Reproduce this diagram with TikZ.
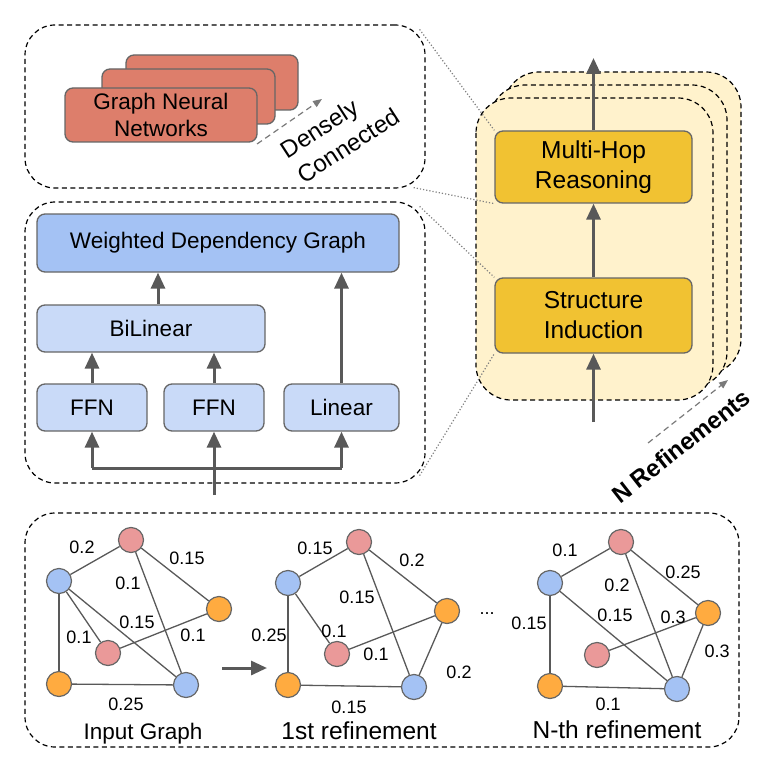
\documentclass[tikz,border=0pt]{standalone}
\usepackage{fontspec}
\setmainfont{Liberation Sans}
\definecolor{gnnred}{HTML}{DD7E6B}
\definecolor{wdgblue}{HTML}{A4C2F4}
\definecolor{layblue}{HTML}{C9DAF8}
\definecolor{stackyel}{HTML}{FFF2CC}
\definecolor{modyel}{HTML}{F1C232}
\definecolor{nblue}{HTML}{A4C2F4}
\definecolor{npink}{HTML}{EA9999}
\definecolor{norange}{HTML}{FFAB40}
\definecolor{arrgray}{HTML}{595959}
\definecolor{boxgray}{HTML}{666666}
\usepackage{tikz}
\usetikzlibrary{arrows.meta}
\newcommand{\boxfont}{\fontsize{22.5}{27}\selectfont}
\newcommand{\modfont}{\fontsize{24.5}{30}\selectfont}
\newcommand{\wfont}{\fontsize{18}{20}\selectfont}

\begin{document}
\begin{tikzpicture}[x=1pt,y=-1pt,
        box/.style={rectangle,rounded corners=8pt,draw=boxgray,line width=1.3pt,
                    inner sep=0pt,align=center,font=\boxfont},
        frame/.style={rectangle,rounded corners=30pt,draw=black,line width=1.2pt,
                      dash pattern=on 5pt off 3.5pt},
        stack/.style={rounded corners=35pt,draw=black,fill=stackyel,line width=1.2pt,
                      dash pattern=on 5pt off 3.5pt},
        arr/.style={draw=arrgray,line width=3pt,-{Triangle[length=16pt,width=14pt]}},
        dasharr/.style={draw=arrgray!80,line width=1.2pt,dash pattern=on 6pt off 4pt,
                        -{Triangle[length=9pt,width=7pt]}},
        link/.style={draw=gray,line width=1.2pt,dotted},
        gnode/.style={circle,draw=boxgray,line width=1.2pt,minimum size=25pt,inner sep=0pt},
        gedge/.style={draw=arrgray,line width=1.3pt},
        wlab/.style={font=\wfont,inner sep=0pt}]
    \useasboundingbox (0,0) rectangle (762,767);

    % GNN block
    \node[frame,minimum width=400pt,minimum height=163pt] (gnnframe) at (225,106.5) {};
    \node[box,fill=gnnred,minimum width=172pt,minimum height=55pt] (gnnc) at (212,82.5) {};
    \node[box,fill=gnnred,minimum width=173pt,minimum height=55pt] (gnnb) at (188.5,96.5) {};
    \node[box,fill=gnnred,minimum width=192pt,minimum height=54pt] (gnna) at (161,115)
      {Graph Neural\\Networks};
    \coordinate (dcs) at (257,144);
    \coordinate (dce) at (322,99);
    \draw[dasharr] (dcs) -- (dce);
    \node[rotate=33,align=left,font=\fontsize{24}{30}\selectfont] (dense) at (340,133)
      {Densely\\Connected};

    % structure induction block
    \node[frame,minimum width=400pt,minimum height=281pt] (depframe) at (225,342.5) {};
    \node[box,fill=wdgblue,minimum width=362pt,minimum height=58pt] (wdg) at (218,243)
      {Weighted Dependency Graph};
    \node[box,fill=layblue,minimum width=228pt,minimum height=47pt] (bil) at (151,328.5) {BiLinear};
    \node[box,fill=layblue,minimum width=110pt,minimum height=47pt] (ffna) at (92,407.5) {FFN};
    \node[box,fill=layblue,minimum width=100pt,minimum height=47pt] (ffnb) at (214,407.5) {FFN};
    \node[box,fill=layblue,minimum width=115pt,minimum height=47pt] (lin) at (341.5,407.5) {Linear};
    \coordinate (depin) at (214,495);
    \coordinate (split) at (214,468);
    \draw[arr] (depin) -- (ffnb.south);
    \draw[draw=arrgray,line width=3pt] (ffna.south |- split) -- (lin.south |- split);
    \draw[arr] (ffna.south |- split) -- (ffna.south);
    \draw[arr] (lin.south |- split) -- (lin.south);
    \draw[arr] (ffna.north) -- (ffna.north |- bil.south);
    \draw[arr] (ffnb.north) -- (ffnb.north |- bil.south);
    \draw[arr] ([xshift=7pt]bil.north) -- ([xshift=7pt]bil.north |- wdg.south);
    \draw[arr] (lin.north) -- (lin.north |- wdg.south);

    % refinement stack
    \draw[stack] (504,72) rectangle (741,374);
    \draw[stack] (490,85) rectangle (727,387);
    \draw[stack] (476,98) rectangle (713,400);
    \node[box,fill=modyel,font=\modfont,minimum width=197pt,minimum height=72pt] (mhr) at (593.5,167)
      {Multi-Hop\\Reasoning};
    \node[box,fill=modyel,font=\modfont,minimum width=197pt,minimum height=75pt] (si) at (593.5,315.5)
      {Structure\\Induction};
    \coordinate (sin) at (593.5,422);
    \coordinate (sout) at (593.5,58);
    \draw[arr] (sin) -- (si.south);
    \draw[arr] (si.north) -- (mhr.south);
    \draw[arr] (mhr.north) -- (sout);
    \coordinate (nrs) at (648,443);
    \coordinate (nre) at (728,380);
    \draw[dasharr] (nrs) -- (nre);
    \node[rotate=38,font=\fontsize{24}{28}\selectfont\bfseries] (nref) at (681,446) {N Refinements};

    % zoom lines
    \draw[link] ([shift={(-6,5)}]gnnframe.north east) -- (mhr.north west);
    \draw[link] ([shift={(-12,-1)}]gnnframe.south east) -- (mhr.south west);
    \draw[link] ([shift={(-6,5)}]depframe.north east) -- (si.north west);
    \draw[link] ([shift={(-6,-8)}]depframe.south east) -- (si.south west);

    % graphs
    \node[frame,minimum width=714pt,minimum height=234pt] (graphframe) at (382,630) {};

    % input graph
    \node[gnode,fill=nblue]   (g1a) at (59,581) {};
    \node[gnode,fill=npink]   (g1b) at (131,540) {};
    \node[gnode,fill=norange] (g1c) at (219,609) {};
    \node[gnode,fill=npink]   (g1d) at (108,653) {};
    \node[gnode,fill=norange] (g1e) at (59,684) {};
    \node[gnode,fill=nblue]   (g1f) at (186,685) {};
    \draw[gedge] (g1a) -- (g1b);
    \draw[gedge] (g1b) -- (g1c);
    \draw[gedge] (g1b) -- (g1f);
    \draw[gedge] (g1a) -- (g1d);
    \draw[gedge] (g1a) -- (g1f);
    \draw[gedge] (g1d) -- (g1c);
    \draw[gedge] (g1a) -- (g1e);
    \draw[gedge] (g1e) -- (g1f);
    \node[wlab] (w1ab) at (82,547) {0.2};
    \node[wlab] (w1bc) at (187,558) {0.15};
    \node[wlab] (w1bf) at (128,583) {0.1};
    \node[wlab] (w1af) at (137,622) {0.15};
    \node[wlab] (w1ad) at (79,637) {0.1};
    \node[wlab] (w1dc) at (193,635) {0.1};
    \node[wlab] (w1ef) at (126,704) {0.25};
    \node[font=\boxfont] (cap1) at (143,734) {Input Graph};
    \coordinate (refs) at (222,668);
    \coordinate (refe) at (267,668);
    \draw[arr] (refs) -- (refe);

    % 1st refinement
    \node[gnode,fill=nblue]   (g2a) at (288,583) {};
    \node[gnode,fill=npink]   (g2b) at (359,542) {};
    \node[gnode,fill=norange] (g2c) at (447,611) {};
    \node[gnode,fill=npink]   (g2d) at (337,654) {};
    \node[gnode,fill=norange] (g2e) at (288,685) {};
    \node[gnode,fill=nblue]   (g2f) at (414,687) {};
    \draw[gedge] (g2a) -- (g2b);
    \draw[gedge] (g2b) -- (g2c);
    \draw[gedge] (g2b) -- (g2f);
    \draw[gedge] (g2a) -- (g2d);
    \draw[gedge] (g2d) -- (g2c);
    \draw[gedge] (g2c) -- (g2f);
    \draw[gedge] (g2a) -- (g2e);
    \draw[gedge] (g2e) -- (g2f);
    \node[wlab] (w2ab) at (315,548) {0.15};
    \node[wlab] (w2bc) at (412,560) {0.2};
    \node[wlab] (w2bf) at (357,597) {0.15};
    \node[wlab] (w2ad) at (334,631) {0.1};
    \node[wlab] (w2dc) at (376,654) {0.1};
    \node[wlab] (w2cf) at (459,672) {0.2};
    \node[wlab] (w2ae) at (269,635) {0.25};
    \node[wlab] (w2ef) at (349,707) {0.15};
    \node[font=\modfont] (cap2) at (359,731) {1st refinement};
    \node[wlab] (dots) at (487,614) {...};

    % N-th refinement
    \node[gnode,fill=nblue]   (g3a) at (550,583) {};
    \node[gnode,fill=npink]   (g3b) at (621,542) {};
    \node[gnode,fill=norange] (g3c) at (708,613) {};
    \node[gnode,fill=npink]   (g3d) at (597,655) {};
    \node[gnode,fill=norange] (g3e) at (550,686) {};
    \node[gnode,fill=nblue]   (g3f) at (677,689) {};
    \draw[gedge] (g3a) -- (g3b);
    \draw[gedge] (g3b) -- (g3c);
    \draw[gedge] (g3b) -- (g3f);
    \draw[gedge] (g3a) -- (g3f);
    \draw[gedge] (g3d) -- (g3c);
    \draw[gedge] (g3c) -- (g3f);
    \draw[gedge] (g3a) -- (g3e);
    \draw[gedge] (g3e) -- (g3f);
    \node[wlab] (w3ab) at (565,550) {0.1};
    \node[wlab] (w3bc) at (683,572) {0.25};
    \node[wlab] (w3bf) at (617,585) {0.2};
    \node[wlab] (w3af) at (615,615) {0.15};
    \node[wlab] (w3dc) at (673,617) {0.3};
    \node[wlab] (w3cf) at (717,651) {0.3};
    \node[wlab] (w3ae) at (529,623) {0.15};
    \node[wlab] (w3ef) at (608,704) {0.1};
    \node[font=\modfont] (cap3) at (617,730) {N-th refinement};
\end{tikzpicture}
\end{document}
